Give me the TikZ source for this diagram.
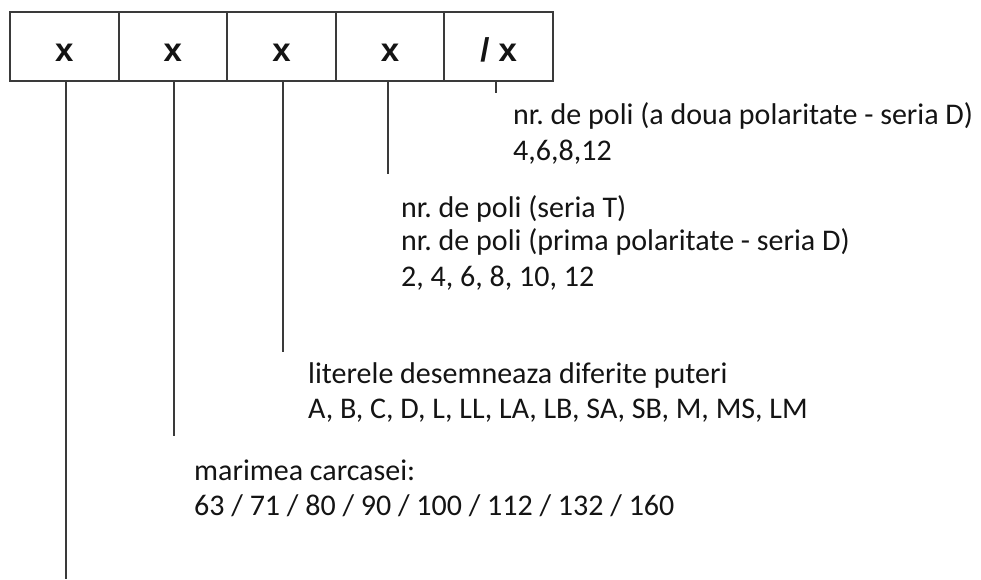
\documentclass[tikz,border=0pt]{standalone}
\usepackage{fontspec}
\setmainfont{Carlito}
\newfontfamily\cellfont{Liberation Sans}
\definecolor{linegray}{HTML}{3A3A3A}
\definecolor{textdark}{HTML}{141414}
\frenchspacing
\begin{document}
\begin{tikzpicture}[x=1pt,y=-1pt,
  cell/.style={draw=linegray, line width=2pt, minimum width=108.6pt, minimum height=69pt,
    inner sep=0pt, anchor=north west, text height=29pt, text depth=0pt,
    font=\cellfont\bfseries\fontsize{33}{33}\selectfont, text=textdark},
  lbl/.style={anchor=base west, inner sep=0pt, text=textdark,
    font=\fontsize{30}{35}\selectfont},
  lead/.style={draw=linegray, line width=2pt}]
\useasboundingbox (0,0) rectangle (981,579);
\fill[white] (0,0) rectangle (981,579);
% cells
\node[cell] (b1) at (9,11) {x};
\node[cell] (b2) at (117.6,11) {x};
\node[cell] (b3) at (226.2,11) {x};
\node[cell] (b4) at (334.8,11) {x};
\node[cell] (b5) at (443.4,11) {/ x};
% leader end points
\coordinate (e1) at (66,579);
\coordinate (e2) at (174,436);
\coordinate (e3) at (283,352);
\coordinate (e4) at (388,174);
\coordinate (e5) at (496,93);
\draw[lead] (e1 |- b1.south) -- (e1);
\draw[lead] (e2 |- b2.south) -- (e2);
\draw[lead] (e3 |- b3.south) -- (e3);
\draw[lead] (e4 |- b4.south) -- (e4);
\draw[lead] (e5 |- b5.south) -- (e5);
% labels
\node[lbl] (t5a) at (513,124) {nr. de poli (a doua polaritate - seria D)};
\node[lbl] (t5b) at (513,160) {4,6,8,12};
\node[lbl] (t4a) at (401,217) {nr. de poli (seria T)};
\node[lbl] (t4b) at (401,250) {nr. de poli (prima polaritate - seria D)};
\node[lbl] (t4c) at (401,286) {2, 4, 6, 8, 10, 12};
\node[lbl] (t3a) at (308,383) {literele desemneaza diferite puteri};
\node[lbl] (t3b) at (308,418) {A, B, C, D, L, LL, LA, LB, SA, SB, M, MS, LM};
\node[lbl] (t2a) at (194,480) {marimea carcasei:};
\node[lbl] (t2b) at (194,515) {63 / 71 / 80 / 90 / 100 / 112 / 132 / 160};
\end{tikzpicture}
\end{document}
